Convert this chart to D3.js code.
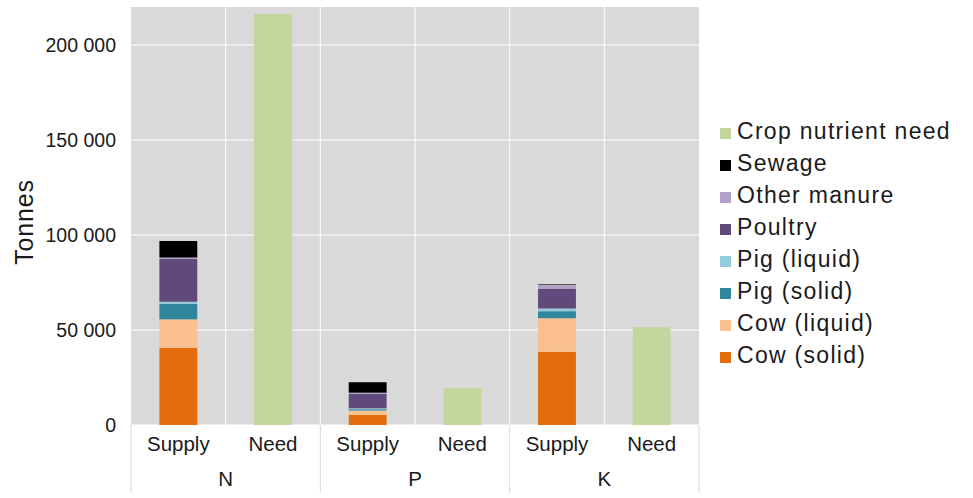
<!DOCTYPE html>
<html>
<head>
<meta charset="utf-8">
<script src="https://cdn.jsdelivr.net/npm/d3@7"></script>
<style>
  body { margin:0; background:#fff; }
  text { font-family: "Liberation Sans", Arial, Helvetica, sans-serif; fill:#1a1a1a; }
</style>
</head>
<body>
<script>
// chart values (tonnes)
var nutrients = ["N","P","K"];
var columns = ["Supply","Need"];
var seriesNames = ["Cow (solid)","Cow (liquid)","Pig (solid)","Pig (liquid)","Poultry","Other manure","Sewage"];
var cowSolid    = [40700, 5300, 38600];
var cowLiquid   = [14900, 2300, 17600];
var pigSolid    = [8200,  700,  3700];
var pigLiquid   = [1050,  500,  1400];
var poultry     = [22500, 7500, 10500];
var otherManure = [800,   700,  2000];
var sewage      = [8700,  5500, 300];
var cropNeed    = [216300, 19300, 51500];
var yTicks = [0, 50000, 100000, 150000, 200000];

var colors = {
  "Cow (solid)":"#e46c0a", "Cow (liquid)":"#fac090", "Pig (solid)":"#31859c",
  "Pig (liquid)":"#93cddd", "Poultry":"#604a7b", "Other manure":"#b3a2c7",
  "Sewage":"#000000", "Crop nutrient need":"#c3d69b"
};

var seriesValues = [cowSolid, cowLiquid, pigSolid, pigLiquid, poultry, otherManure, sewage];
var supplyRows = nutrients.map(function(n,i){
  var row = {nutrient:n};
  seriesNames.forEach(function(s,j){ row[s] = seriesValues[j][i]; });
  return row;
});

var margin = {left:131, right:274, top:7, bottom:73};
var width = 973, height = 498;
var plotW = width - margin.left - margin.right;
var plotH = height - margin.top - margin.bottom;

var svg = d3.select("body").append("svg").attr("width",width).attr("height",height);
var g = svg.append("g").attr("transform","translate("+margin.left+","+margin.top+")");

var x0 = d3.scaleBand().domain(nutrients).range([0,plotW]);
var x1 = d3.scaleBand().domain(columns).range([0,x0.bandwidth()]).paddingInner(0.6).paddingOuter(0.3);
var y = d3.scaleLinear().domain([0,220000]).range([plotH,0]);

// plot background
g.append("rect").attr("width",plotW).attr("height",plotH).attr("fill","#d9d9d9");

// horizontal gridlines
g.selectAll(".hgrid").data(yTicks).enter().append("line")
  .attr("x1",0).attr("x2",plotW)
  .attr("y1",function(d){return y(d);}).attr("y2",function(d){return y(d);})
  .attr("stroke","#fff").attr("stroke-width",1);

// vertical gridlines between each column
var cells = [];
nutrients.forEach(function(n){ columns.forEach(function(c){ cells.push({n:n,c:c}); }); });
var cellLeft = function(d){ return x0(d.n)+x1(d.c)+x1.bandwidth()/2-x1.step()/2; };
g.selectAll(".vgrid").data(cells.slice(1)).enter().append("line")
  .attr("x1",cellLeft).attr("x2",cellLeft)
  .attr("y1",0).attr("y2",plotH)
  .attr("stroke","#fff").attr("stroke-width",1);

// stacked supply bars
var stack = d3.stack().keys(seriesNames);
var layers = stack(supplyRows);
g.selectAll(".layer").data(layers).enter().append("g")
  .attr("fill",function(d){return colors[d.key];})
  .selectAll("rect").data(function(d){return d;}).enter().append("rect")
  .attr("x",function(d){return x0(d.data.nutrient)+x1("Supply");})
  .attr("width",x1.bandwidth())
  .attr("y",function(d){return y(d[1]);})
  .attr("height",function(d){return y(d[0])-y(d[1]);});

// need bars
g.selectAll(".need").data(cropNeed).enter().append("rect")
  .attr("fill",colors["Crop nutrient need"])
  .attr("x",function(d,i){return x0(nutrients[i])+x1("Need");})
  .attr("width",x1.bandwidth())
  .attr("y",function(d){return y(d);})
  .attr("height",function(d){return plotH-y(d);});

// y axis labels
var fmt = function(v){ return d3.format(",")(v).replace(/,/g," "); };
g.selectAll(".ytick").data(yTicks).enter().append("text")
  .attr("x",-15).attr("y",function(d){return y(d);}).attr("dy","0.36em")
  .attr("text-anchor","end").attr("font-size","19.5px")
  .text(fmt);

svg.append("text")
  .attr("transform","translate(33,"+222+") rotate(-90)")
  .attr("text-anchor","middle").attr("font-size","25px").attr("letter-spacing","0.8px")
  .text("Tonnes");

// category axis
var ax = g.append("g").attr("transform","translate(0,"+plotH+")");
ax.selectAll(".sep").data(nutrients.concat(["end"])).enter().append("line")
  .attr("x1",function(d){return d==="end"?plotW:x0(d);})
  .attr("x2",function(d){return d==="end"?plotW:x0(d);})
  .attr("y1",0).attr("y2",68)
  .attr("stroke","#d9d9d9").attr("stroke-width",1);
ax.selectAll(".col").data(cells).enter().append("text")
  .attr("x",function(d){return x0(d.n)+x1(d.c)+x1.bandwidth()/2;})
  .attr("y",26).attr("text-anchor","middle").attr("font-size","20.5px")
  .text(function(d){return d.c;});
ax.selectAll(".grp").data(nutrients).enter().append("text")
  .attr("x",function(d){return x0(d)+x0.bandwidth()/2;})
  .attr("y",61).attr("text-anchor","middle").attr("font-size","20.5px")
  .text(function(d){return d;});

// legend
var legendItems = ["Crop nutrient need"].concat(seriesNames.slice().reverse());
var legend = svg.append("g").attr("transform","translate(720,139)");
var li = legend.selectAll(".li").data(legendItems).enter().append("g")
  .attr("transform",function(d,i){return "translate(0,"+(i*32)+")";});
li.append("rect").attr("x",0).attr("y",-11).attr("width",11).attr("height",11)
  .attr("fill",function(d){return colors[d];});
li.append("text").attr("x",17).attr("y",0).attr("font-size","23px")
  .attr("letter-spacing","1.3px")
  .text(function(d){return d;});
</script>
</body>
</html>
